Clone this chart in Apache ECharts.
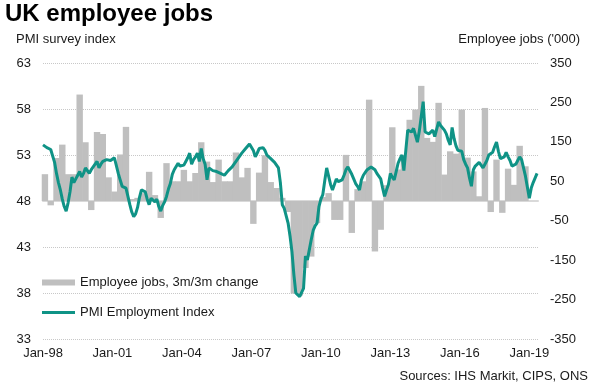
<!DOCTYPE html>
<html><head><meta charset="utf-8">
<script src="https://cdn.jsdelivr.net/npm/echarts/dist/echarts.min.js"></script>
<style>html,body{margin:0;padding:0;background:#fff}#c{width:595px;height:391px}</style>
</head><body><div id="c"></div>
<script>
// x tick labels every 36 months from Jan 1998
const xTickLabels = ['Jan-98','Jan-01','Jan-04','Jan-07','Jan-10','Jan-13','Jan-16','Jan-19'];

// PMI Employment Index, monthly from Jan 1998 to May 2019
const pmiEmployment = [
  54.1,53.9,53.8,53.7,53.6,53.4,52.2,51.0,50.0,49.2,48.2,47.4,
  46.9,47.8,49.0,50.6,50.0,50.4,50.8,51.2,50.6,51.0,51.6,51.3,
  51.0,51.4,51.7,51.9,52.3,51.6,52.0,52.3,52.2,52.5,52.6,52.4,
  52.5,52.7,52.5,51.0,50.3,49.6,49.8,49.4,49.2,47.6,46.8,46.3,
  46.6,47.3,48.4,49.2,49.3,49.0,48.2,47.6,48.3,48.5,47.9,48.2,
  47.4,46.9,47.5,47.9,48.5,49.3,49.9,50.9,51.4,51.6,52.1,51.8,
  52.0,51.9,52.3,52.7,53.2,52.0,52.5,52.8,53.2,52.3,53.7,52.6,
  52.0,50.3,51.6,51.5,51.3,51.1,51.2,51.4,51.0,51.1,50.8,51.0,
  51.3,51.5,51.7,52.0,52.3,52.6,52.8,53.2,53.4,53.7,53.9,54.2,
  54.0,53.5,52.8,53.2,53.7,53.9,53.8,53.5,53.0,52.8,52.6,52.5,
  52.2,51.9,51.6,50.0,47.6,47.2,47.0,45.6,44.2,42.5,40.0,38.0,
  37.8,37.6,37.5,38.5,42.0,41.6,41.4,43.8,44.8,45.3,45.6,47.4,
  48.2,48.7,50.2,51.6,50.7,49.8,49.2,49.8,50.4,50.1,50.3,50.3,
  50.8,51.4,51.7,51.6,50.9,50.4,49.9,49.6,49.2,50.3,50.8,51.1,
  51.4,51.6,51.7,51.5,51.4,51.0,50.7,50.4,49.4,48.5,49.2,49.8,
  51.0,50.6,50.3,51.2,52.1,52.6,53.0,51.3,53.5,55.7,55.6,55.5,
  55.9,55.8,54.4,55.6,57.2,58.8,55.5,55.4,55.3,55.5,55.7,55.0,
  55.8,56.6,56.2,56.0,55.7,55.3,54.6,54.1,56.0,54.8,54.0,53.5,
  53.5,53.4,52.5,52.0,51.6,50.5,49.6,51.4,51.8,52.0,52.2,52.4,
  51.6,52.0,52.4,53.0,53.1,53.3,53.9,54.4,53.4,52.6,52.4,52.8,
  53.3,52.8,52.4,51.8,51.6,52.0,52.4,52.8,52.5,52.3,50.7,49.5,
  48.3,49.4,50.0,49.8,51.0
];

// Employee jobs, 3m/3m change ('000), quarterly from 1998 Q1 to 2018 Q4
const jobsChange = [
  68,-11,109,143, 68,68,270,149, -23,175,170,60, 24,118,188,5,
  8,20,74,15, -43,96,50,50, 79,50,71,149, 100,48,105,50,
  50,123,60,84, -58,72,116,48, 33,8,-28,-235, -240,-170,-141,-56,
  10,20,-48,-48, 117,-81,30,50, 257,-128,-73,40, 187,80,115,206,
  232,292,160,150, 249,67,126,120, 232,110,75,12, 236,-28,105,-30,
  82,41,140,88
];

const FONT = '"Liberation Sans", Arial, sans-serif';
const TEXT = '#1a1a1a';
const TEAL = '#0f9386';
const GREY = '#bfbfbf';

const chart = echarts.init(document.getElementById('c'), null, {renderer: 'canvas'});
chart.setOption({
  animation: false,
  textStyle: {fontFamily: FONT},
  grid: {left: 43, right: 57, top: 63, bottom: 52},
  xAxis: {
    type: 'value', min: 0, max: 256.5, interval: 36,
    axisLine: {show: true, lineStyle: {color: '#d9d9d9', width: 2}},
    axisTick: {show: false}, splitLine: {show: false},
    axisLabel: {fontSize: 13, color: TEXT, margin: 8, fontFamily: FONT,
      formatter: v => (v % 36 === 0 ? xTickLabels[v / 36] : '')}
  },
  yAxis: [
    {type: 'value', min: 33, max: 63, interval: 5, position: 'left',
      axisLine: {show: false}, axisTick: {show: false},
      splitLine: {show: true, lineStyle: {color: '#c8c8c8', type: 'dotted', width: 1}},
      axisLabel: {fontSize: 13, color: TEXT, margin: 12, fontFamily: FONT}},
    {type: 'value', min: -350, max: 350, interval: 50, position: 'right',
      axisLine: {show: false}, axisTick: {show: false}, splitLine: {show: false},
      axisLabel: {fontSize: 13, color: TEXT, margin: 12, fontFamily: FONT,
        formatter: v => ((v + 350) % 100 === 0 ? String(v) : '')}}
  ],
  legend: [
    {data: ['Employee jobs, 3m/3m change'], left: 42, top: 276, padding: 0, icon: 'rect',
      itemWidth: 33, itemHeight: 6, selectedMode: false,
      textStyle: {fontSize: 13, color: TEXT, fontFamily: FONT}},
    {data: ['PMI Employment Index'], left: 42, top: 306, padding: 0, icon: 'rect',
      itemWidth: 33, itemHeight: 3, selectedMode: false,
      textStyle: {fontSize: 13, color: TEXT, fontFamily: FONT}}
  ],
  graphic: [
    {type: 'text', left: 5, top: 2, style: {text: 'UK employee jobs', font: 'bold 24px "Liberation Sans", Arial', fill: '#000'}},
    {type: 'text', left: 16, top: 33, style: {text: 'PMI survey index', font: '13px "Liberation Sans", Arial', fill: TEXT}},
    {type: 'text', right: 15, top: 33, style: {text: "Employee jobs ('000)", font: '13px "Liberation Sans", Arial', fill: TEXT}},
    {type: 'text', right: 7, top: 370, style: {text: 'Sources: IHS Markit, CIPS, ONS', font: '13px "Liberation Sans", Arial', fill: TEXT}}
  ],
  series: [
    {name: 'Employee jobs, 3m/3m change', type: 'bar', yAxisIndex: 1, barWidth: 6.4,
      itemStyle: {color: GREY}, data: jobsChange.map((v, q) => [3 * q + 1, v])},
    {name: 'PMI Employment Index', type: 'line', yAxisIndex: 0, showSymbol: false, z: 3,
      lineStyle: {color: TEAL, width: 3}, itemStyle: {color: TEAL},
      data: pmiEmployment.map((v, i) => [i, v])}
  ]
});
</script>
</body></html>
